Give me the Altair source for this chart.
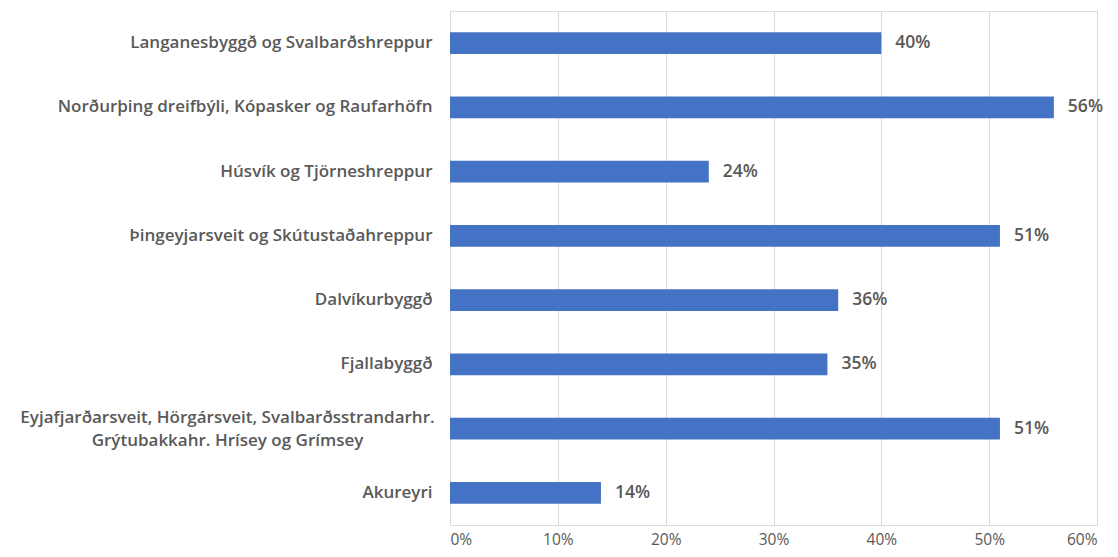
import altair as alt
import pandas as pd

categories = [
    "Langanesbyggð og Svalbarðshreppur",
    "Norðurþing dreifbýli, Kópasker og Raufarhöfn",
    "Húsvík og Tjörneshreppur",
    "Þingeyjarsveit og Skútustaðahreppur",
    "Dalvíkurbyggð",
    "Fjallabyggð",
    "Eyjafjarðarsveit, Hörgársveit, Svalbarðsstrandarhr.|Grýtubakkahr. Hrísey og Grímsey",
    "Akureyri",
]
values = [0.40, 0.56, 0.24, 0.51, 0.36, 0.35, 0.51, 0.14]
x_ticks = [0, 0.1, 0.2, 0.3, 0.4, 0.5, 0.6]

df = pd.DataFrame({"cat": categories, "val": values})

FONT = "Open Sans"
GRAY = "#595959"
MULTI = "indexof(datum.value, '|') >= 0"

y_enc = alt.Y(
    "cat:N",
    sort=categories,
    title=None,
    scale=alt.Scale(paddingInner=0.66, paddingOuter=0.33),
    axis=alt.Axis(
        labelExpr="split(datum.label, '|')",
        labelFont=FONT,
        labelFontSize=17,
        labelFontWeight=600,
        labelColor=GRAY,
        labelPadding={"expr": MULTI + " ? 223 : 18"},
        labelAlign={"expr": MULTI + " ? 'center' : 'right'"},
        labelOffset={"expr": MULTI + " ? -11 : 0"},
        ticks=False,
        domain=False,
        labelLimit=500,
        labelLineHeight=23,
    ),
)

x_enc = alt.X(
    "val:Q",
    title=None,
    scale=alt.Scale(domain=[0, 0.6]),
    axis=alt.Axis(
        format=".0%",
        values=x_ticks,
        labelFont=FONT,
        labelFontSize=15.5,
        labelColor=GRAY,
        labelPadding=7,
        labelBaseline="top",
        domain=False,
        ticks=False,
        grid=True,
        gridColor="#D9D9D9",
        gridWidth=1,
    ),
)

bars = alt.Chart(df).mark_bar(color="#4472C4").encode(y=y_enc, x=x_enc)

text = alt.Chart(df).mark_text(
    align="left", baseline="middle", dx=14, font=FONT, fontSize=17.5,
    fontWeight=600, color=GRAY,
).encode(y=alt.Y("cat:N", sort=categories), x="val:Q", text=alt.Text("val:Q", format=".0%"))

chart = (
    alt.layer(bars, text)
    .properties(width=647, height=514, autosize=alt.AutoSizeParams(type="none"),
                padding={"left": 442, "top": 3, "right": 13, "bottom": 24})
    .configure_view(stroke=None)
    .configure(background="white")
)

chart.save("out.html", embed_options={"renderer": "svg", "actions": False})
